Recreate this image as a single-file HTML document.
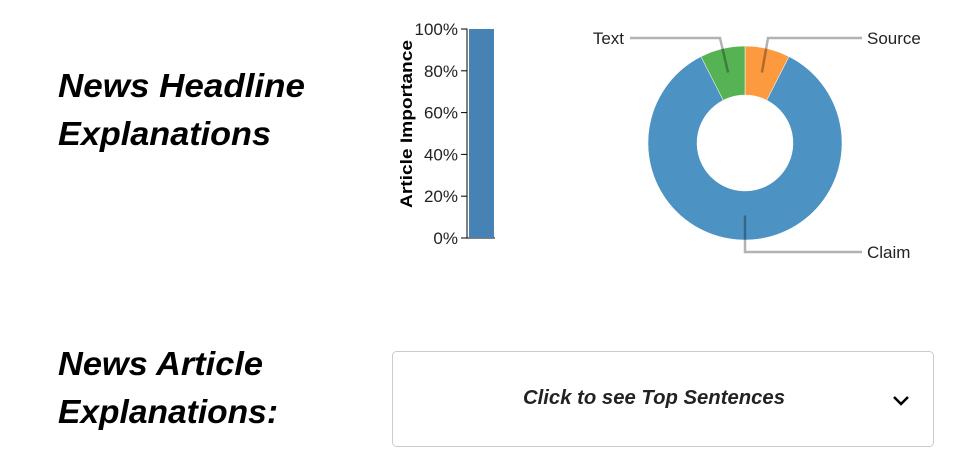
<!DOCTYPE html>
<html><head><meta charset="utf-8"><style>
body{margin:0;background:#fff;width:977px;height:467px;overflow:hidden;font-family:"Liberation Sans",sans-serif}
</style></head><body>
<svg width="977" height="467" xmlns="http://www.w3.org/2000/svg">
<g font-family="Liberation Sans, sans-serif" font-weight="bold" font-style="italic" font-size="33" fill="#000">
<text x="58" y="97" textLength="247" lengthAdjust="spacingAndGlyphs">News Headline</text>
<text x="58" y="145" textLength="213" lengthAdjust="spacingAndGlyphs">Explanations</text>
<text x="58" y="375" textLength="205" lengthAdjust="spacingAndGlyphs">News Article</text>
<text x="58" y="423" textLength="220" lengthAdjust="spacingAndGlyphs">Explanations:</text>
</g>
<g id="bar"></g>
<g id="pie"></g>
<g style="cursor:pointer">
<rect x="392.5" y="351.5" width="541" height="95" rx="4" fill="#fff" stroke="#ccc"/>
<text x="654" y="404" text-anchor="middle" font-weight="bold" font-style="italic" font-size="20" fill="#222" textLength="262" lengthAdjust="spacingAndGlyphs">Click to see Top Sentences</text>
<path d="M894 397 L901 404 L908 397" fill="none" stroke="#000" stroke-width="2.5"/>
</g>
</svg>
<script>
const NS="http://www.w3.org/2000/svg";
const barCategories=["Article"];
const barValues=[1.0];
const yTicks=[0,0.2,0.4,0.6,0.8,1.0];
const yTickLabels=["0%","20%","40%","60%","80%","100%"];
const pieLabels=["Source","Claim","Text"];
const pieValues=[7.5,85,7.5];
const pieColors=["#fd9a40","#4c92c3","#55b354"];

function mk(tag,attrs,parent){const e=document.createElementNS(NS,tag);for(const k in attrs)e.setAttribute(k,attrs[k]);parent.appendChild(e);return e;}

const bar=document.getElementById('bar');
const y0=238,y1=29,axX=467;
const yScale=v=>y0-(y0-y1)*v;
mk('path',{d:`M${axX-6} ${y1}H${axX}V${y0}H${axX-6}`,fill:'none',stroke:'#000'},bar);
mk('line',{x1:axX,x2:495,y1:y0,y2:y0,stroke:'#000'},bar);
yTicks.forEach((t,i)=>{
  mk('line',{x1:axX-6,x2:axX,y1:yScale(t),y2:yScale(t),stroke:'#000'},bar);
  const tx=mk('text',{x:axX-9,y:yScale(t)+6,'text-anchor':'end','font-size':'17',fill:'#222'},bar);
  tx.textContent=yTickLabels[i];
  
  
});
barValues.forEach((v,i)=>{
  const r=mk('rect',{x:469,y:yScale(v),width:25,height:y0-yScale(v),fill:'#4682b4'},bar);
  
  
});
const yt=mk('text',{transform:'translate(412,124) rotate(-90)','text-anchor':'middle','font-size':'17','font-weight':'bold',fill:'#000',textLength:'168',lengthAdjust:'spacingAndGlyphs'},bar);
yt.textContent='Article Importance';



const pie=document.getElementById('pie');
const cx=745,cy=143,R=97,r=48;
const total=pieValues.reduce((a,b)=>a+b,0);
let a=0;
const pt=(ang,rad)=>[cx+rad*Math.sin(ang),cy-rad*Math.cos(ang)];
const labelPos={Source:{lx:768,ly:38,ex:862,anchor:'start',tx:867},Text:{lx:720,ly:38,ex:630,anchor:'end',tx:624},Claim:{lx:745,ly:252,ex:862,anchor:'start',tx:867}};
pieValues.forEach((v,i)=>{
  const a0=a,a1=a+v/total*2*Math.PI;a=a1;
  const lg=(a1-a0)>Math.PI?1:0;
  const [x0,yy0]=pt(a0,R),[x1,yy1]=pt(a1,R),[x2,yy2]=pt(a1,r),[x3,yy3]=pt(a0,r);
  const p=mk('path',{d:`M${x0} ${yy0}A${R} ${R} 0 ${lg} 1 ${x1} ${yy1}L${x2} ${yy2}A${r} ${r} 0 ${lg} 0 ${x3} ${yy3}Z`,fill:pieColors[i],stroke:'#fff','stroke-width':'0.5'},pie);
  
  
});
a=0;
pieValues.forEach((v,i)=>{
  const a0=a,a1=a+v/total*2*Math.PI;a=a1;
  const mid=(a0+a1)/2;const [mx,my]=pt(mid,(R+r)/2);
  const L=labelPos[pieLabels[i]];
  const l=mk('polyline',{points:`${mx},${my} ${L.lx},${L.ly} ${L.ex},${L.ly}`,fill:'none',stroke:'#000','stroke-opacity':'0.3','stroke-width':'2.5'},pie);
  
  
  const t=mk('text',{x:L.tx,y:L.ly+6,'text-anchor':L.anchor,'font-size':'17',fill:'#222'},pie);
  t.textContent=pieLabels[i];
  
  
});
</script>
</body></html>
